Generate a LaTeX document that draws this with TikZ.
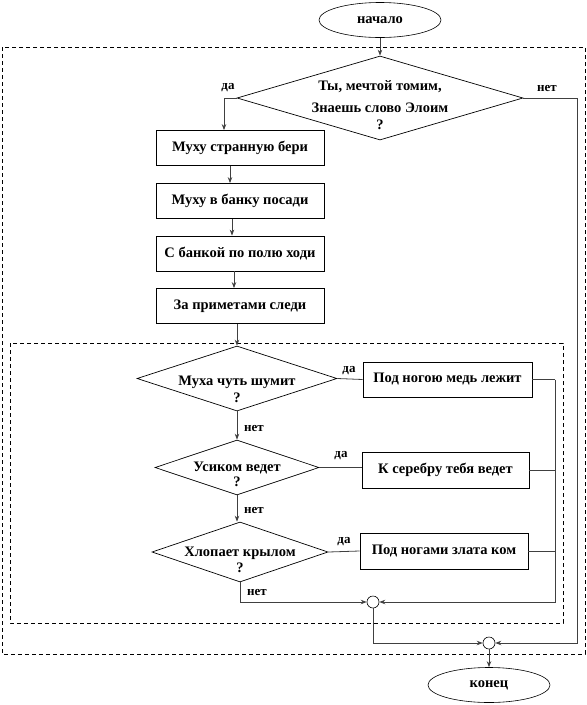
\documentclass[tikz,border=0pt]{standalone}
\usepackage{fontspec}
\setmainfont{Liberation Serif}
\usetikzlibrary{shapes.geometric,arrows.meta,calc}
\newcommand{\dtext}[2]{\smash{\raisebox{#1}{\makebox[0pt]{\begin{tabular}{@{}c@{}}#2\end{tabular}}}}}
\begin{document}
\begin{tikzpicture}[x=1pt,y=-1pt,
  font=\fontsize{14.5}{17}\selectfont\bfseries,
  every node/.style={inner sep=0pt},
  box/.style={draw=black,line width=0.8pt,rectangle,minimum width=168pt,minimum height=35pt},
  dia/.style={draw=black,line width=0.7pt,diamond},
  term/.style={draw=black,line width=0.6pt,ellipse,minimum width=122pt,minimum height=35pt},
  junc/.style={draw=black,line width=0.6pt,circle,minimum size=12pt},
  conn/.style={draw=black!75,line width=0.8pt},
  arr/.style={conn,-{Stealth[length=6pt,width=4.5pt]}},
  lab/.style={font=\fontsize{13}{15}\selectfont\bfseries},
  frame/.style={draw=black,line width=0.7pt,dash pattern=on 4pt off 3pt}
]
\useasboundingbox (0,0) rectangle (587,705);
% frames
\draw[frame] (2,47) rectangle (585,654);
\draw[frame] (10,343) rectangle (563,623);
% terminals
\node[term] (start) at (380,20) {начало};
\node[term] (end) at (489,685) {конец};
% main decision
\node[dia,minimum width=286pt,minimum height=84pt] (d1) at (380,98)
  {\dtext{-12pt}{Ты, мечтой томим,\\[5pt]Знаешь слово Элоим\\?}};
% boxes
\node[box] (b1) at (240,148) {Муху странную бери};
\node[box] (b2) at (240,201) {Муху в банку посади};
\node[box] (b3) at (240,253.5) {С банкой по полю ходи};
\node[box] (b4) at (240,306) {За приметами следи};
% inner decisions
\node[dia,minimum width=200pt,minimum height=65pt] (d2) at (237,378.5)
  {\dtext{-16pt}{Муха чуть шумит\\?}};
\node[dia,minimum width=164pt,minimum height=55pt] (d3) at (237,467.5)
  {\dtext{-12pt}{Усиком ведет\\[-2pt]?}};
\node[dia,minimum width=176pt,minimum height=60pt] (d4) at (240,552)
  {\dtext{-13pt}{Хлопает крылом\\[-1pt]?}};
\node[box,minimum width=169pt] (r1) at (447.5,379.5) {Под ногою медь лежит};
\node[box,minimum width=167pt,minimum height=36pt] (r2) at (445.5,470) {К серебру тебя ведет};
\node[box,minimum width=168pt,minimum height=36pt] (r3) at (444,551) {Под ногами злата ком};
% junctions
\node[junc] (c1) at (373,602) {};
\node[junc] (c2) at (489,643) {};
\coordinate (rr) at (555,0);
\coordinate (ro) at (577,0);
% connectors
\draw[arr] (start) -- (d1);
\draw[arr] (d1.west) -| ([xshift=-16pt]b1.north);
\draw[arr] ([xshift=-10pt]b1.south) -- ([xshift=-10pt]b2.north);
\draw[arr] ([xshift=-8pt]b2.south) -- ([xshift=-8pt]b3.north);
\draw[arr] ([xshift=-6pt]b3.south) -- ([xshift=-6pt]b4.north);
\draw[arr] ([xshift=-3pt]b4.south) -- ([xshift=-3pt]b4.south |- d2.north);
\draw[conn] (d2.east) -- (r1.west);
\draw[conn] (d3.east) -- (r2.west |- d3.east);
\draw[conn] (d4.east) -- (r3.west);
\draw[arr] (d2.south) -- (d3.north);
\draw[arr] (d3.south) -- (d3.south |- d4.north);
\draw[conn] (r1.east) -- (r1.east -| rr);
\draw[conn] (r2.east) -- (r2.east -| rr);
\draw[conn] (r3.east) -- (r3.east -| rr);
\draw[arr] (r1.east -| rr) |- (c1.east);
\draw[arr] (d4.south) |- (c1.west);
\draw[arr] (c1.south) |- (c2.west);
\draw[arr] (d1.east) -- (d1.east -| ro) |- (c2.east);
\draw[arr] (c2.south) -- (end.north);
% labels
\node[lab] at (228,88) {да};
\node[lab] at (547,88) {нет};
\node[lab] at (349,371) {да};
\node[lab] at (254,428) {нет};
\node[lab] at (341,456) {да};
\node[lab] at (254,510) {нет};
\node[lab] at (344,542) {да};
\node[lab] at (257,592) {нет};
\end{tikzpicture}
\end{document}
